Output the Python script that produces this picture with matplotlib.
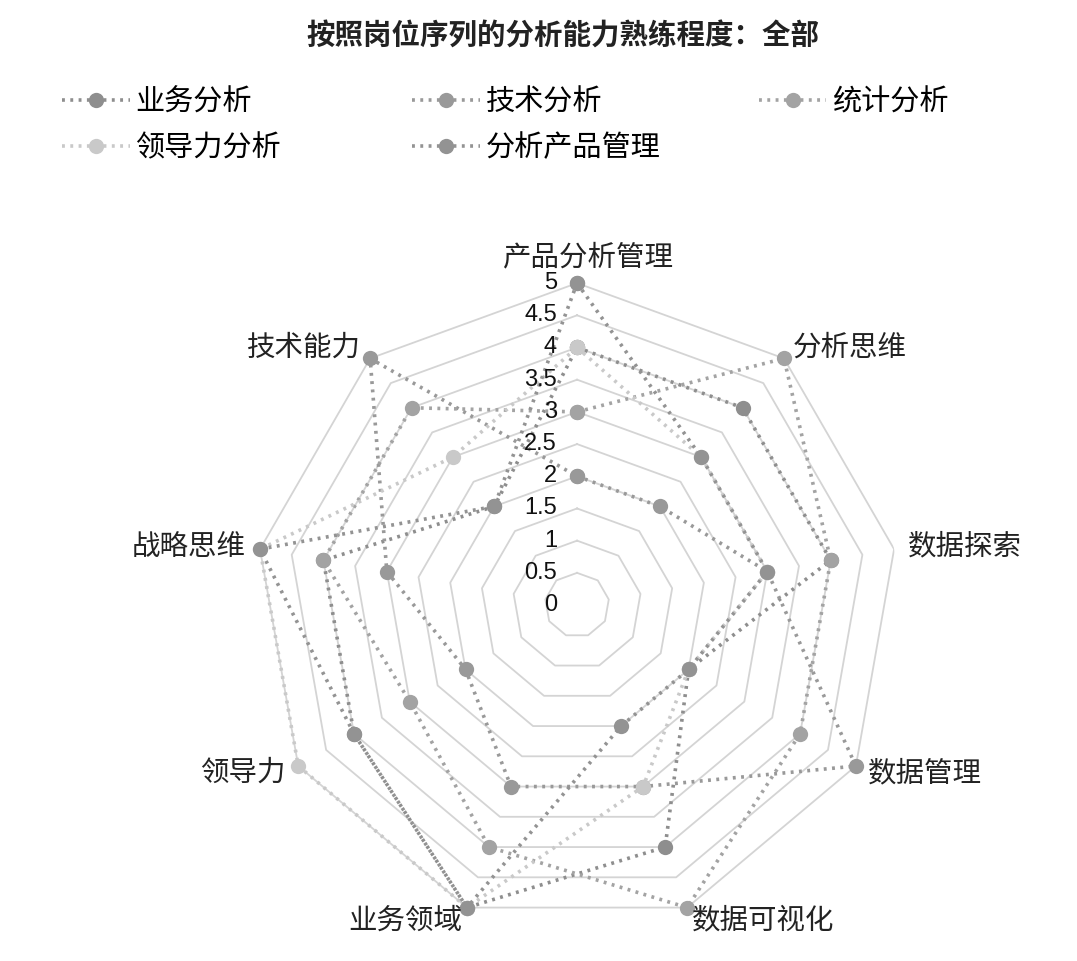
import numpy as np
import matplotlib
matplotlib.use("Agg")
import matplotlib.pyplot as plt
import matplotlib.transforms as mtransforms
from matplotlib.lines import Line2D

plt.rcParams['font.family'] = ['Noto Sans CJK SC', 'DejaVu Sans']

# data
categories = ["产品分析管理", "分析思维", "数据探索", "数据管理", "数据可视化",
              "业务领域", "领导力", "战略思维", "技术能力"]
series_names = ["业务分析", "技术分析", "统计分析", "领导力分析", "分析产品管理"]
biz = [4, 4, 4, 2, 4, 5, 4, 4, 2]
tech = [2, 2, 3, 5, 3, 3, 2, 3, 5]
stat = [3, 5, 4, 4, 5, 4, 3, 4, 4]
lead = [4, 3, 3, 2, 3, 5, 5, 5, 3]
prod = [5, 3, 3, 2, 2, 5, 4, 5, 2]
r_ticks = [0, 0.5, 1, 1.5, 2, 2.5, 3, 3.5, 4, 4.5, 5]
r_labels = ["0", "0.5", "1", "1.5", "2", "2.5", "3", "3.5", "4", "4.5", "5"]
title = "按照岗位序列的分析能力熟练程度：全部"

colors = ["#8e8e8e", "#999999", "#a3a3a3", "#c9c9c9", "#939393"]
values = [biz, tech, stat, lead, prod]
dots = (0, (0.8, 1.5))

fig = plt.figure(figsize=(10.77, 9.61), dpi=100)
ax = fig.add_axes([0.2368, 0.0354, 0.598, 0.670], projection='polar')
ax.set_theta_zero_location('N')
ax.set_theta_direction(-1)
ax.set_ylim(0, 5)
ax.grid(False)
ax.spines['polar'].set_visible(False)
ax.set_xticks([])
ax.set_yticks([])
ax.patch.set_alpha(0)

n = len(categories)
theta = np.arange(n) * 2 * np.pi / n
theta_c = np.append(theta, theta[0])

# polygon rings
for r in r_ticks[1:]:
    ax.plot(theta_c, [r] * (n + 1), color='#d4d4d4', lw=1.3, zorder=1)

# series
for name, v, c in zip(series_names, values, colors):
    vc = v + v[:1]
    ax.plot(theta_c, vc, color=c, lw=2.6, linestyle=dots, marker='o',
            markersize=11, markeredgewidth=0, zorder=3, clip_on=False)

# radial labels
off = mtransforms.offset_copy(ax.transData, fig=fig, x=-20, y=0, units='dots')
for r, lab in zip(r_ticks, r_labels):
    ax.text(0, r, lab, ha='right', va='center', fontsize=17,
            family='Liberation Sans', color='#111111', transform=off, zorder=5)

# category labels
top_off = mtransforms.offset_copy(ax.transData, fig=fig, x=10, y=0, units='dots')
for t, lab in zip(theta, categories):
    s = np.sin(t)
    if s > 0.1:
        ha = 'left'
    elif s < -0.1:
        ha = 'right'
    else:
        ha = 'center'
    if ha == 'center':
        ax.text(t, 5.4, lab, ha=ha, va='center', fontsize=20.5, color='#222222',
                transform=top_off)
    else:
        ax.text(t, 5.22, lab, ha=ha, va='center', fontsize=20.5, color='#222222')

fig.text(0.523, 0.962, title, ha='center', va='center', fontsize=20.5,
         fontweight='bold', color='#222222')

# legend, three columns placed by hand
cols = [[0, 3], [1, 4], [2]]
xs = [0.058, 0.383, 0.705]
for col, x in zip(cols, xs):
    hs = [Line2D([], [], color=colors[i], lw=2.6, linestyle=dots,
                 marker='o', markersize=11, markeredgewidth=0) for i in col]
    fig.legend(hs, [series_names[i] for i in col], loc='upper left',
               bbox_to_anchor=(x, 0.909), frameon=False, fontsize=21,
               handlelength=2.3, handletextpad=0.2, labelspacing=0.55,
               borderaxespad=0, borderpad=0)

fig.savefig("out.png", dpi=100, facecolor='white')
